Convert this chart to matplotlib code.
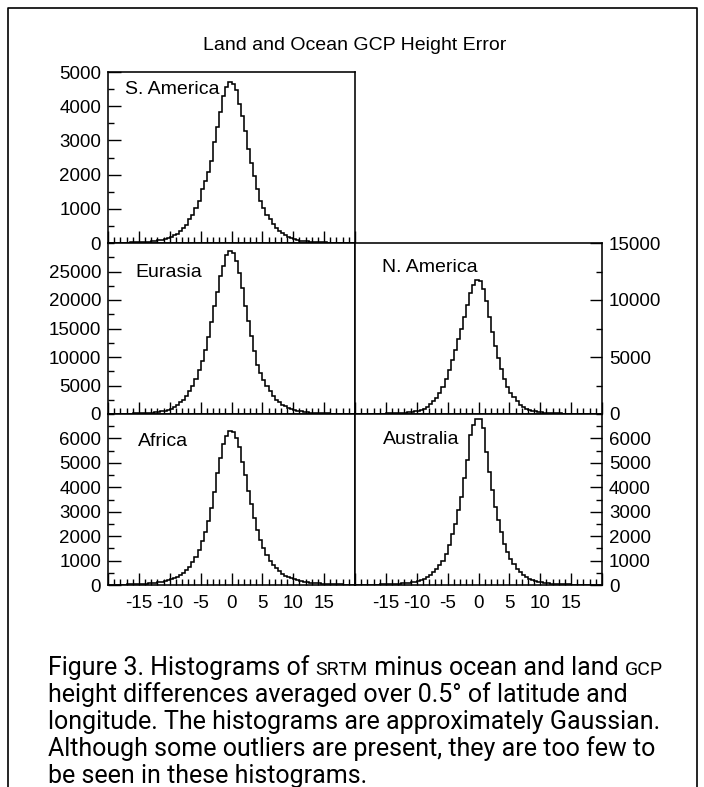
import numpy as np
import matplotlib
matplotlib.use('Agg')
import matplotlib.pyplot as plt
from matplotlib import font_manager
from matplotlib.transforms import IdentityTransform
from matplotlib.lines import Line2D

# bin edges: -20..20 in 0.5 steps (80 bins)
edges = np.arange(-20, 20.01, 0.5)

s_america = [5, 6, 7, 8, 9, 11, 13, 15, 18, 21, 25, 30, 35, 42, 50, 60, 75, 90, 110, 140,
             170, 220, 270, 340, 440, 540, 690, 830, 1030, 1230, 1570, 1820, 2080, 2400, 2940, 3380, 3840, 4310, 4560, 4700,
             4650, 4460, 4070, 3720, 3280, 2740, 2350, 1960, 1570, 1230, 1030, 830, 690, 570, 450, 350, 280, 220, 170, 140,
             110, 90, 72, 60, 50, 42, 35, 29, 24, 20, 17, 14, 12, 10, 9, 8, 7, 6, 5, 4]

eurasia = [36, 40, 45, 50, 56, 63, 72, 82, 95, 110, 130, 150, 175, 210, 250, 300, 370, 450, 560, 700,
           880, 1170, 1580, 2050, 2500, 3220, 3980, 4970, 6140, 7780, 9240, 11290, 13450, 16090, 18900, 21350, 24160, 25900, 27960, 28550,
           28260, 26790, 24750, 22100, 18900, 16260, 13630, 11000, 8660, 7200, 6030, 4860, 3980, 3220, 2500, 2050, 1640, 1350, 1050, 880,
           700, 560, 450, 370, 300, 250, 210, 175, 150, 130, 110, 95, 82, 72, 63, 56, 50, 45, 40, 36]

africa = [9, 10, 12, 14, 16, 19, 22, 26, 31, 37, 44, 52, 61, 72, 85, 100, 118, 140, 165, 195,
          230, 275, 330, 400, 490, 600, 740, 930, 1150, 1450, 1800, 2150, 2600, 3150, 3800, 4600, 5200, 5780, 6080, 6300,
          6250, 6000, 5650, 5050, 4500, 3850, 3300, 2750, 2250, 1850, 1500, 1230, 1000, 820, 680, 560, 460, 380, 320, 270,
          230, 195, 165, 140, 120, 102, 87, 74, 63, 54, 46, 39, 33, 28, 24, 21, 18, 15, 13, 11]

n_america = [10, 11, 13, 15, 17, 20, 23, 27, 32, 38, 45, 53, 63, 75, 90, 108, 130, 160, 195, 240,
             300, 380, 480, 620, 840, 1110, 1420, 1850, 2400, 3050, 3880, 4700, 5600, 6600, 7500, 8500, 9600, 10600, 11300, 11750,
             11700, 11000, 9900, 8500, 7200, 6000, 4950, 3950, 3100, 2400, 1840, 1450, 1100, 820, 620, 480, 370, 290, 230, 185,
             150, 122, 100, 82, 68, 56, 46, 38, 32, 27, 23, 20, 17, 14, 12, 10, 9, 8, 7, 6]

australia = [7, 8, 9, 10, 12, 14, 16, 19, 22, 26, 30, 35, 41, 48, 56, 66, 78, 93, 112, 135,
             165, 200, 250, 315, 410, 520, 660, 800, 1000, 1280, 1620, 2100, 2510, 3060, 3610, 4370, 5120, 6150, 6560, 6800,
             6800, 6430, 5460, 4640, 3890, 3200, 2650, 2170, 1690, 1350, 1070, 840, 660, 520, 410, 315, 250, 200, 160, 130,
             107, 88, 73, 61, 51, 43, 36, 30, 25, 21, 18, 15, 13, 11, 9, 8, 7, 6, 5, 4]

x_ticklabels = ['', '-15', '-10', '-5', '0', '5', '10', '15', '']

title = 'Land and Ocean GCP Height Error'
caption = [
    [('Figure 3. Histograms of ', 1.0), ('SRTM', 0.78), (' minus ocean and land ', 1.0), ('GCP', 0.78)],
    [('height differences averaged over 0.5° of latitude and', 1.0)],
    [('longitude. The histograms are approximately Gaussian.', 1.0)],
    [('Although some outliers are present, they are too few to', 1.0)],
    [('be seen in these histograms.', 1.0)],
]

W, H = 704, 787
plt.rcParams['font.family'] = ['Liberation Sans', 'DejaVu Sans']
fig = plt.figure(figsize=(W / 100, H / 100), dpi=100)


def add_ax(l, t, r, b):
    return fig.add_axes([l / W, 1 - b / H, (r - l) / W, (b - t) / H])


# name, data, (l, t, r, b) px, ymax, y major step, y label max, side, x labels, label pos
panels = [
    ('S. America', s_america, (108, 72, 355, 243), 5000, 1000, 5000, 'left', False, (125, 90)),
    ('Eurasia', eurasia, (108, 243, 355, 414), 30000, 5000, 25000, 'left', False, (135, 272)),
    ('Africa', africa, (108, 414, 355, 585), 7000, 1000, 6000, 'left', True, (138, 442)),
    ('N. America', n_america, (355, 243, 602, 414), 15000, 5000, 15000, 'right', False, (382, 268)),
    ('Australia', australia, (355, 414, 602, 585), 7000, 1000, 6000, 'right', True, (383, 440)),
]

for name, counts, rect, ymax, ystep, ylab, side, xlab, lpos in panels:
    ax = add_ax(*rect)
    ax.stairs(counts, edges, color='black', lw=1.15)
    ax.set_xlim(-20, 20)
    ax.set_ylim(0, ymax)
    ax.set_xticks(np.arange(-20, 21, 5))
    ax.set_xticks(np.arange(-20, 21, 1), minor=True)
    ax.set_xticklabels(x_ticklabels)
    ax.set_yticks(np.arange(0, ylab + 1, ystep))
    ax.set_yticks(np.arange(0, ymax + 1, ystep / 2), minor=True)
    ax.tick_params(axis='x', which='both', direction='in', top=False, bottom=True,
                   labelbottom=xlab, labelsize=13.5, pad=7, width=1)
    ax.tick_params(axis='y', which='both', direction='in', left=(side == 'left'),
                   right=(side == 'right'), labelleft=(side == 'left'),
                   labelright=(side == 'right'), labelsize=13.5, pad=5, width=1)
    ax.tick_params(which='major', length=9)
    ax.tick_params(which='minor', length=4.5)
    for sp in ax.spines.values():
        sp.set_linewidth(1.15)
    fig.text(lpos[0] / W, 1 - lpos[1] / H, name, fontsize=14, ha='left', va='center')

fig.text(355 / W, 1 - 46 / H, title, fontsize=14, ha='center', va='center')

# frame round the figure (open at the bottom)
fig.add_artist(Line2D([8 / W, 8 / W, 697 / W, 697 / W], [0, 1 - 8 / H, 1 - 8 / H, 0],
                      transform=fig.transFigure, color='black', lw=1.2))

# caption, with small caps pieces placed one after another
cap_font = 'Liberation Sans'
for cand in ['Liberation Sans Narrow', 'Roboto']:
    try:
        font_manager.findfont(cand, fallback_to_default=False)
        cap_font = cand
        break
    except Exception:
        pass

fig.canvas.draw()
renderer = fig.canvas.get_renderer()


def seg_width(s, size):
    a = fig.text(0, 0, s + '|', fontsize=size, family=cap_font, transform=IdentityTransform())
    b = fig.text(0, 0, '|', fontsize=size, family=cap_font, transform=IdentityTransform())
    w = a.get_window_extent(renderer).width - b.get_window_extent(renderer).width
    a.remove()
    b.remove()
    return w


def line_width(parts, size):
    return sum(seg_width(s, size * k) for s, k in parts)


# fit first line to its width in the reference
cap_size = 10 * 615 / line_width(caption[0], 10)

for i, parts in enumerate(caption):
    x = 48
    y = H - (675 + 27 * i)
    for s, k in parts:
        fig.text(x, y, s, fontsize=cap_size * k, family=cap_font, va='baseline',
                 ha='left', transform=IdentityTransform())
        x += seg_width(s, cap_size * k)

fig.savefig('out.png', dpi=100)
